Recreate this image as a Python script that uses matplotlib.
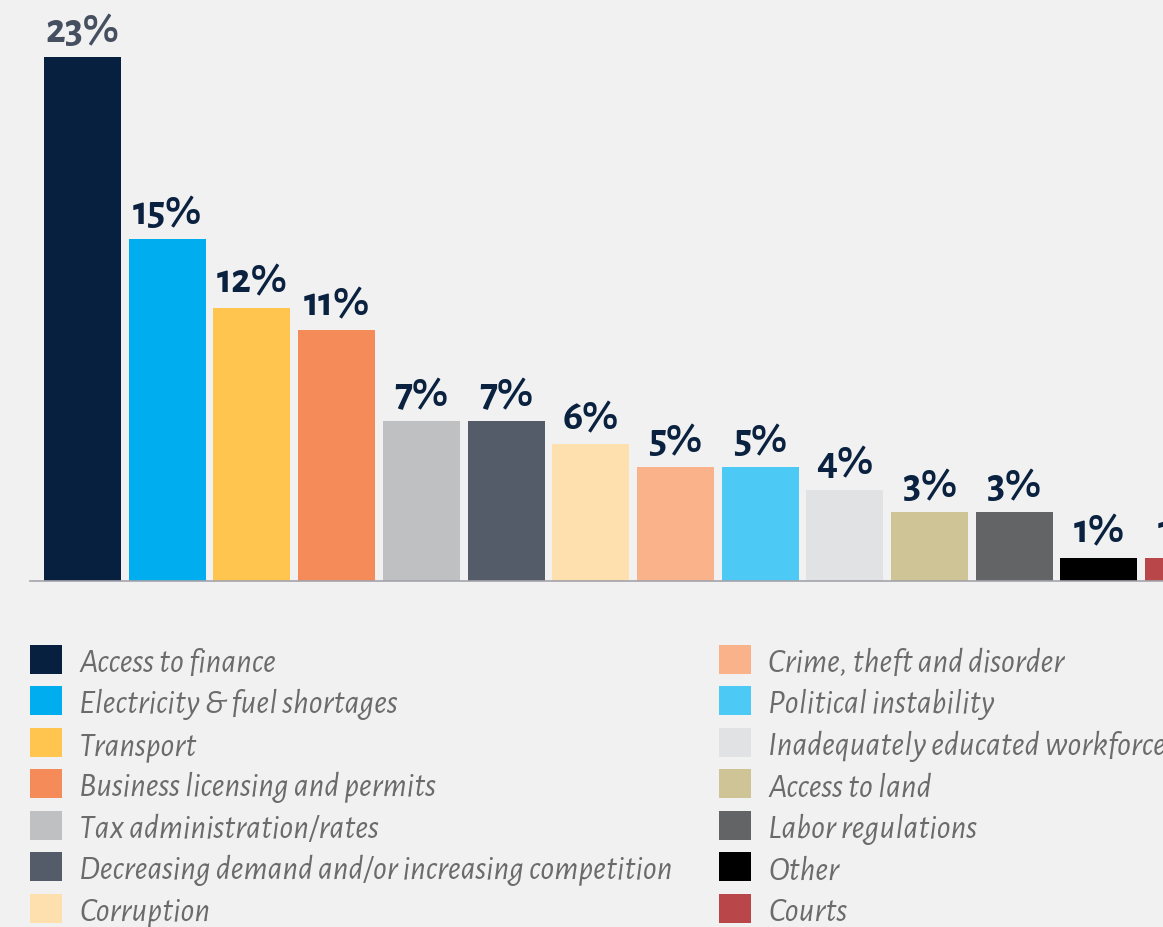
import matplotlib
matplotlib.use("Agg")
import matplotlib.pyplot as plt
from matplotlib.patches import Patch
from matplotlib import font_manager as fm

# ---- data ----
categories = [
    "Access to finance", "Electricity & fuel shortages", "Transport",
    "Business licensing and permits", "Tax administration/rates",
    "Decreasing demand and/or increasing competition", "Corruption",
    "Crime, theft and disorder", "Political instability",
    "Inadequately educated workforce", "Access to land",
    "Labor regulations", "Other", "Courts",
]
values = [23, 15, 12, 11, 7, 7, 6, 5, 5, 4, 3, 3, 1, 1]
colors = [
    "#08203f", "#00aeef", "#ffc54f", "#f58b58", "#bfc0c2", "#545b69",
    "#fde0ad", "#fab28b", "#4dc9f5", "#e1e2e4", "#cfc495", "#636466",
    "#000000", "#b9474a",
]
value_labels = [f"{v}%" for v in values]

BG = "#f1f1f1"
avail = {f.name for f in fm.fontManager.ttflist}
FONT = "Alegreya Sans" if "Alegreya Sans" in avail else "Lato"

W, H = 1163, 928
fig = plt.figure(figsize=(W / 100, H / 100), dpi=100, facecolor=BG)

# axes geometry in pixels
base_px = 581.5          # baseline y (from top)
px_per_unit = 22.75      # pixels per percentage point
step_px = 84.7           # bar pitch
first_center = 82.5
ax_left_px = 30.0
ax_right_px = 1300.0
ymax = 25.0
ax_h = ymax * px_per_unit
ax = fig.add_axes([ax_left_px / W, (H - base_px) / H,
                   (ax_right_px - ax_left_px) / W, ax_h / H])
ax.set_facecolor(BG)
x = list(range(len(values)))
bars = ax.bar(x, values, width=77 / step_px, color=colors, zorder=2)
ax.set_xlim((ax_left_px - first_center) / step_px,
            (ax_right_px - first_center) / step_px)
ax.set_ylim(0, ymax)
for s in ["top", "right", "left"]:
    ax.spines[s].set_visible(False)
ax.spines["bottom"].set_color("#a3a3ab")
ax.spines["bottom"].set_linewidth(1.2)
ax.set_xticks([])
ax.set_yticks([])

# fit font sizes to measured widths
fig.canvas.draw()
renderer = fig.canvas.get_renderer()

def fit(text, target_px, **kw):
    t = fig.text(0, 0, text, fontsize=20, **kw)
    w = t.get_window_extent(renderer).width
    t.remove()
    return 20 * target_px / w

val_fs = fit("23%", 74, family=FONT, fontweight="bold")
leg_fs = fit("Access to finance", 197, family=FONT, style="italic", fontweight="normal")

for i, (b, lab) in enumerate(zip(bars, value_labels)):
    ax.annotate(lab, (b.get_x() + b.get_width() / 2, b.get_height()),
                xytext=(0, 8), textcoords="offset pixels",
                ha="center", va="bottom", fontsize=val_fs,
                fontweight="bold", family=FONT,
                color="#454f60" if i == 0 else "#0a2240")

# legends: two columns of seven
handles = [Patch(facecolor=c, edgecolor="none") for c in colors]
fs_px = leg_fs * 100 / 72
common = dict(frameon=False, loc="upper left",
              handlelength=32 / fs_px, handleheight=32 / fs_px,
              handletextpad=17 / fs_px, labelspacing=0.252, borderpad=0,
              borderaxespad=0,
              prop=dict(family=FONT, style="italic", weight="normal", size=leg_fs),
              labelcolor="#6b6b6b")
leg1 = fig.legend(handles[:7], categories[:7],
                  bbox_to_anchor=(30 / W, 1 - 646 / H), **common)
leg2 = fig.legend(handles[7:], categories[7:],
                  bbox_to_anchor=(719 / W, 1 - 646 / H), **common)

fig.savefig("out.png", dpi=100, facecolor=BG)
